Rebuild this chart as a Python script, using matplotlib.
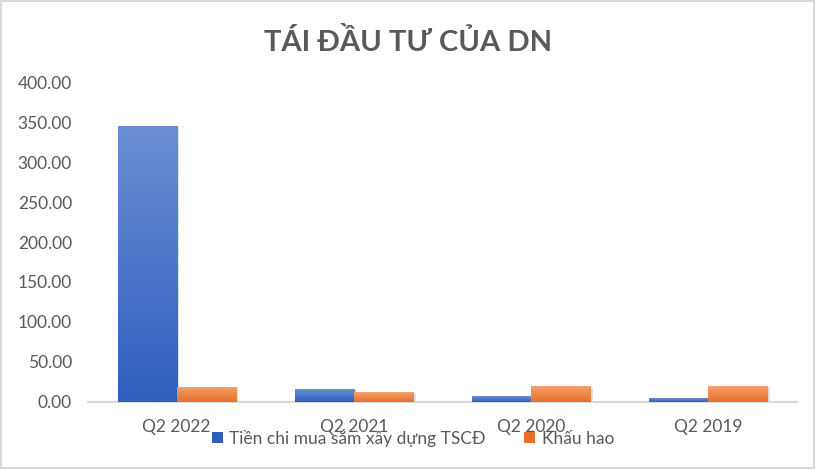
import matplotlib.pyplot as plt
import matplotlib.colors as mcolors
from matplotlib.patches import Rectangle
import numpy as np

plt.rcParams['font.family'] = ['Lato', 'DejaVu Sans']

categories = ['Q2 2022', 'Q2 2021', 'Q2 2020', 'Q2 2019']
capex = [345.0, 16.0, 7.5, 5.0]
depreciation = [19.0, 12.5, 20.0, 20.0]
series_names = ['Tiền chi mua sắm xây dựng TSCĐ', 'Khấu hao']

blue_top, blue_bot = '#6A8FD3', '#2F5EBE'
orange_top, orange_bot = '#F4A26C', '#E8702A'


def gradient_bars(ax, bars, c_top, c_bot):
    cmap = mcolors.LinearSegmentedColormap.from_list('g', [c_bot, c_top])
    grad = np.linspace(0, 1, 256).reshape(-1, 1)
    for b in bars:
        x, y = b.get_x(), b.get_y()
        w, h = b.get_width(), b.get_height()
        # soft shadow
        ax.add_patch(Rectangle((x + 0.015, y), w, max(h - 0.8, 0), color='#000000',
                               alpha=0.12, zorder=1, lw=0))
        im = ax.imshow(grad, cmap=cmap, origin='lower', aspect='auto',
                       extent=[x, x + w, y, y + h], zorder=3)
        im.set_clip_path(b)


fig = plt.figure(figsize=(8.16, 4.69), dpi=100)
ax = fig.add_axes([88 / 816, 1 - 402 / 469, 709 / 816, 320 / 469])

x = np.arange(len(categories))
w = 1 / 3
b1 = ax.bar(x - w / 2, capex, w, color=blue_bot, label=series_names[0], zorder=2)
b2 = ax.bar(x + w / 2, depreciation, w, color=orange_bot, label=series_names[1], zorder=2)
gradient_bars(ax, b1, blue_top, blue_bot)
gradient_bars(ax, b2, orange_top, orange_bot)

ax.set_xlim(-0.5, len(categories) - 0.5)
ax.set_ylim(0, 400)
ax.set_yticks(np.arange(0, 401, 50))
ax.set_yticklabels([f'{v:.2f}' for v in np.arange(0, 401, 50)])
ax.set_xticks(x)
ax.set_xticklabels(categories)
ax.tick_params(axis='both', length=0, colors='#595959')
ax.tick_params(axis='x', pad=12, labelsize=12.5)
ax.tick_params(axis='y', pad=11.5, labelsize=12.5)
for s in ['top', 'right', 'left']:
    ax.spines[s].set_visible(False)
ax.spines['bottom'].set_color('#D9D9D9')
ax.spines['bottom'].set_linewidth(1.5)

fig.suptitle('TÁI ĐẦU TƯ CỦA DN', y=1 - 42 / 469, va='center', fontsize=21,
             fontweight='bold', color='#595959')

leg = fig.legend(handles=[b1, b2], labels=series_names, loc='center',
                 bbox_to_anchor=(413 / 816, 1 - 438 / 469), ncol=2, frameon=False,
                 fontsize=12.5, handlelength=0.6, handleheight=0.6,
                 handletextpad=0.4, columnspacing=2.2, borderpad=0)
for t in leg.get_texts():
    t.set_color('#595959')

fig.patches.append(Rectangle((0.001, 0.002), 0.997, 0.995, transform=fig.transFigure,
                             fill=False, edgecolor='#D9D9D9', lw=1.5))

fig.savefig('out.png', dpi=100)
